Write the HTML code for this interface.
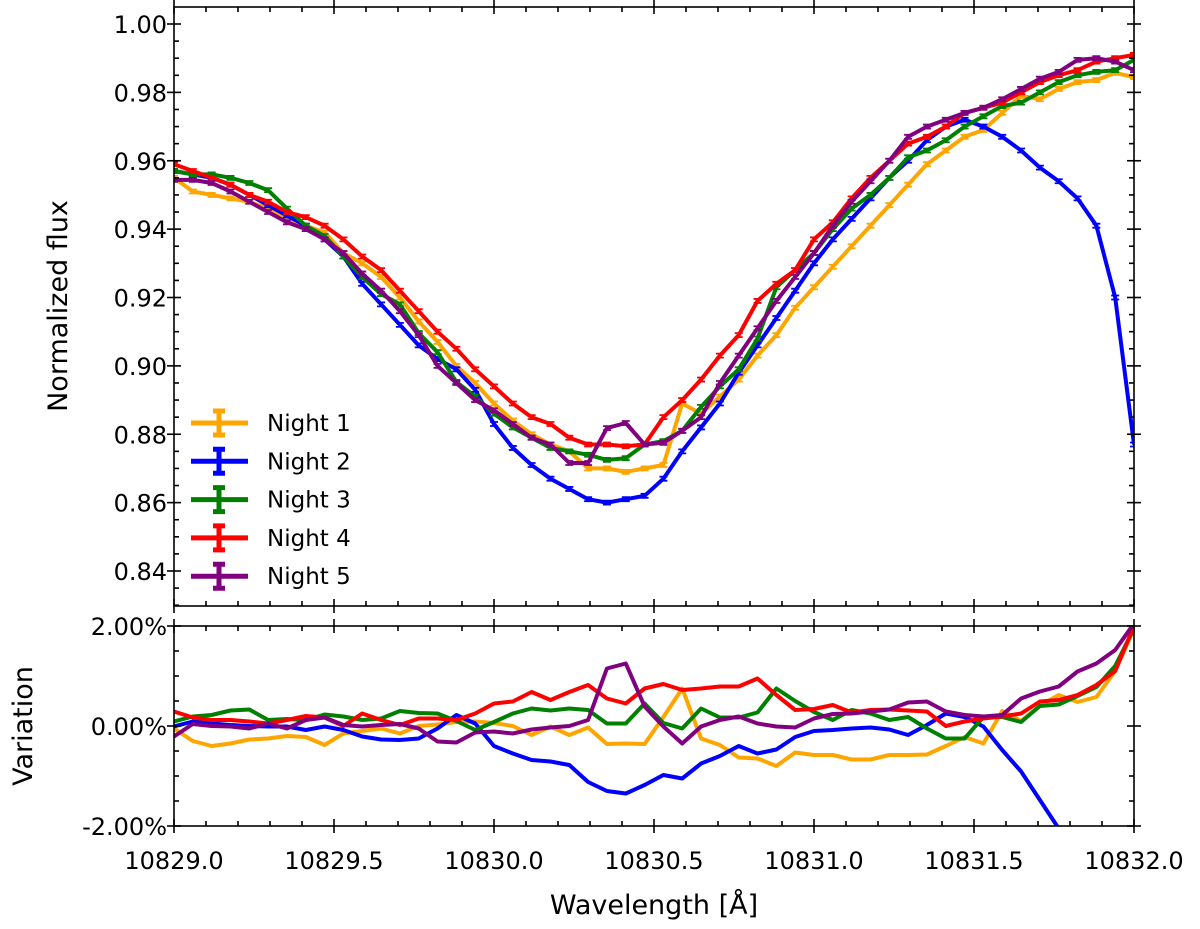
<!DOCTYPE html>
<html><head><meta charset="utf-8"><style>
html,body{margin:0;padding:0;background:#fff;width:1200px;height:929px;overflow:hidden;}
svg{display:block;font-family:"DejaVu Sans","Liberation Sans",sans-serif;}
</style></head><body>
<svg id="chart" width="1200" height="929" viewBox="0 0 1200 929" xmlns="http://www.w3.org/2000/svg"></svg>
<script>
const wavelengths = (function(){const a=[];for(let i=0;i<52;i++)a.push(10829+i*3/51);return a;})();
const seriesNames = ["Night 1","Night 2","Night 3","Night 4","Night 5"];
const seriesColors = ["#ffa500","#0000ff","#008000","#ff0000","#800080"];
const fluxNight1 = [.955,.951,.950,.949,.948,.946,.943,.941,.939,.933,.930,.926,.920,.913,.907,.900,.895,.889,.884,.880,.877,.875,.870,.870,.869,.870,.871,.889,.886,.891,.896,.903,.909,.917,.923,.929,.935,.941,.947,.953,.959,.963,.967,.969,.974,.979,.978,.981,.983,.9836,.9857,.9845];
const fluxNight2 = [.957,.956,.955,.953,.950,.947,.944,.941,.937,.932,.924,.918,.912,.906,.902,.899,.893,.883,.876,.871,.867,.864,.861,.860,.861,.862,.867,.875,.882,.889,.898,.906,.914,.922,.930,.937,.943,.949,.955,.960,.966,.970,.972,.970,.967,.963,.958,.954,.949,.941,.920,.877];
const fluxNight3 = [.957,.956,.956,.955,.9535,.9514,.946,.941,.938,.932,.926,.921,.918,.9096,.904,.8953,.891,.886,.882,.879,.876,.875,.874,.8725,.873,.877,.878,.881,.888,.894,.899,.908,.923,.928,.933,.940,.946,.950,.955,.961,.963,.966,.970,.973,.976,.977,.980,.983,.985,.986,.9865,.9895];
const fluxNight4 = [.959,.957,.955,.953,.950,.948,.945,.9435,.941,.937,.932,.928,.922,.916,.910,.905,.899,.894,.889,.885,.883,.879,.877,.877,.8765,.877,.885,.890,.896,.903,.909,.919,.924,.928,.937,.942,.949,.955,.960,.965,.967,.970,.974,.9755,.977,.980,.983,.985,.9865,.989,.990,.991];
const fluxNight5 = [.9544,.9544,.9535,.951,.948,.945,.942,.940,.937,.933,.927,.922,.916,.909,.900,.895,.890,.887,.883,.879,.877,.8716,.8716,.8818,.8833,.877,.8775,.881,.885,.895,.903,.911,.919,.926,.933,.941,.948,.954,.960,.967,.970,.972,.974,.9755,.978,.981,.984,.986,.9895,.990,.989,.9865];
const varNight1 = [-0.05,-0.30,-0.40,-0.35,-0.27,-0.25,-0.20,-0.22,-0.38,-0.15,-0.10,-0.05,-0.15,0.00,0.03,0.08,0.09,0.06,0.00,-0.18,-0.01,-0.18,-0.03,-0.36,-0.35,-0.36,0.18,0.75,-0.25,-0.38,-0.63,-0.65,-0.80,-0.53,-0.58,-0.58,-0.67,-0.67,-0.58,-0.58,-0.57,-0.40,-0.22,-0.35,0.30,0.10,0.40,0.62,0.48,0.58,1.10,1.95];
const varNight2 = [-0.01,0.09,0.05,0.02,0.00,-0.01,-0.01,-0.08,-0.01,-0.08,-0.21,-0.27,-0.28,-0.25,-0.05,0.22,0.05,-0.40,-0.55,-0.68,-0.71,-0.78,-1.12,-1.30,-1.35,-1.18,-0.98,-1.05,-0.75,-0.60,-0.40,-0.55,-0.47,-0.22,-0.10,-0.08,-0.05,-0.03,-0.07,-0.18,0.02,0.25,0.18,-0.01,-0.48,-0.91,-1.48,-2.05,-2.6,-3.2,-4.5,-7.0];
const varNight3 = [0.09,0.19,0.22,0.31,0.33,0.12,0.14,0.12,0.23,0.19,0.12,0.15,0.30,0.26,0.25,0.10,-0.08,0.08,0.25,0.35,0.31,0.35,0.32,0.05,0.05,0.45,0.06,-0.05,0.35,0.17,0.17,0.27,0.75,0.50,0.28,0.12,0.32,0.25,0.12,0.18,-0.05,-0.25,-0.25,0.18,0.18,0.08,0.40,0.43,0.60,0.78,1.20,1.95];
const varNight4 = [0.29,0.17,0.12,0.12,0.09,0.05,0.12,0.20,0.17,0.00,0.25,0.12,0.02,0.15,0.15,0.12,0.25,0.45,0.49,0.68,0.52,0.68,0.82,0.55,0.45,0.75,0.84,0.72,0.75,0.79,0.79,0.95,0.62,0.32,0.34,0.42,0.27,0.32,0.33,0.31,0.29,0.00,0.09,0.15,0.19,0.25,0.49,0.52,0.62,0.82,1.10,2.0];
const varNight5 = [-0.21,0.04,0.00,-0.01,-0.05,0.05,-0.05,0.12,0.17,0.02,-0.01,0.02,0.04,-0.05,-0.31,-0.33,-0.13,-0.11,-0.15,-0.07,-0.03,0.00,0.12,1.15,1.25,0.39,-0.01,-0.35,-0.01,0.12,0.19,0.05,-0.01,-0.03,0.15,0.24,0.25,0.29,0.33,0.47,0.49,0.29,0.22,0.19,0.22,0.55,0.69,0.79,1.09,1.25,1.52,2.05];
const fluxTicks = [0.84,0.86,0.88,0.90,0.92,0.94,0.96,0.98,1.00];
const varTicks = [-2,0,2];
const xTicks = [10829.0,10829.5,10830.0,10830.5,10831.0,10831.5,10832.0];

const NS="http://www.w3.org/2000/svg";
const svg=document.getElementById('chart');
const L=174,R=1134,T1=7,B1=606,T2=626,B2=826;
const xS=v=>L+(v-10829)/3*(R-L);
const yS1=v=>24+(1.0-v)/0.02*68.375;
const yS2=v=>726-v*50;
function mk(tag,attrs,parent){const e=document.createElementNS(NS,tag);for(const k in attrs)e.setAttribute(k,attrs[k]);(parent||svg).appendChild(e);return e;}

const fluxAll=[fluxNight1,fluxNight2,fluxNight3,fluxNight4,fluxNight5];
const varAll=[varNight1,varNight2,varNight3,varNight4,varNight5];

const cp1=mk('clipPath',{id:'c1'});mk('rect',{x:L,y:T1,width:R-L,height:B1-T1},cp1);
const cp2=mk('clipPath',{id:'c2'});mk('rect',{x:L,y:T2,width:R-L,height:B2-T2},cp2);

const gTop=mk('g',{'clip-path':'url(#c1)'});


fluxAll.forEach((s,k)=>{
  const g=mk('g',{},gTop);
  
  
  const pts=s.map((v,i)=>xS(wavelengths[i]).toFixed(1)+','+yS1(v).toFixed(1)).join(' ');
  const pl=mk('polyline',{points:pts,fill:'none',stroke:seriesColors[k],'stroke-width':4,'stroke-linejoin':'round'},g);
  
  
  s.forEach((v,i)=>{
    const x=xS(wavelengths[i]),y=yS1(v);
    const e=mk('path',{d:`M${x-4},${y-2}H${x+4}M${x-4},${y+2}H${x+4}M${x},${y-2}V${y+2}`,stroke:seriesColors[k],'stroke-width':1.8,fill:'none'},g);
    
    
  });
});
const gBot=mk('g',{'clip-path':'url(#c2)'});


varAll.forEach((s,k)=>{
  const pts=s.map((v,i)=>xS(wavelengths[i]).toFixed(1)+','+yS2(v).toFixed(1)).join(' ');
  const pl=mk('polyline',{points:pts,fill:'none',stroke:seriesColors[k],'stroke-width':4,'stroke-linejoin':'round'},gBot);
  
  
});

const f1=mk('rect',{x:L,y:T1,width:R-L,height:B1-T1,fill:'none',stroke:'#000','stroke-width':1.6});


const f2=mk('rect',{x:L,y:T2,width:R-L,height:B2-T2,fill:'none',stroke:'#000','stroke-width':1.6});



const tk=mk('g',{stroke:'#000','stroke-width':1.6});
function line(x1,y1,x2,y2){mk('line',{x1,y1,x2,y2},tk);}
for(let v=0.83;v<=1.0051;v+=0.005){const y=yS1(v);if(y<T1||y>B1)continue;
  const major=Math.abs(Math.round(v*100)/100-v)<1e-6 && Math.round(v*100)%2===0;
  if(major){line(L-7,y,L+7,y);line(R-7,y,R+7,y);}else{line(L,y,L+5,y);line(R-5,y,R,y);}}
for(let v=-2;v<=2.001;v+=0.5){const y=yS2(v);const major=Math.abs(v%2)<1e-6;
  if(major){line(L-7,y,L+7,y);line(R-7,y,R+7,y);}else{line(L,y,L+5,y);line(R-5,y,R,y);}}
for(let j=0;j<=30;j++){const x=L+j*(R-L)/30;const major=j%5===0;
  [[T1,1],[B1,-1],[T2,1],[B2,-1]].forEach(([y,d])=>{
    if(major){line(x,y-7,x,y+7);}else{line(x,y,x,y+d*5);}
  });}

function txt(s,x,y,attrs,name){const t=mk('text',Object.assign({x,y,'font-size':24,fill:'#000'},attrs||{}));t.textContent=s;
  
  return t;}
fluxTicks.forEach(v=>txt(v.toFixed(2),167,yS1(v)+9,{'text-anchor':'end'},'y-tick-label'));
varTicks.forEach(v=>txt(v.toFixed(2)+'%',167,yS2(v)+9,{'text-anchor':'end'},'variation-tick-label'));
xTicks.forEach(v=>txt(v.toFixed(1),xS(v),869,{'text-anchor':'middle'},'x-tick-label'));
txt('Normalized flux',0,0,{transform:'translate(67,306) rotate(-90)','text-anchor':'middle','font-size':27},'y-axis-title');
txt('Variation',0,0,{transform:'translate(32,726) rotate(-90)','text-anchor':'middle','font-size':27},'variation-axis-title');
txt('Wavelength [Å]',654,914,{'text-anchor':'middle','font-size':27},'x-axis-title');

seriesNames.forEach((n,k)=>{
  const y=423+k*38.3;
  const g=mk('g',{});
  
  
  mk('line',{x1:191,y1:y,x2:248,y2:y,stroke:seriesColors[k],'stroke-width':5},g);
  mk('path',{d:`M219,${y-12}V${y+12}M213,${y-12}H225M213,${y+12}H225`,stroke:seriesColors[k],'stroke-width':5,fill:'none'},g);
  const t=mk('text',{x:267,y:y+8,'font-size':23,fill:'#000'},g);t.textContent=n;
});
</script>
</body></html>
